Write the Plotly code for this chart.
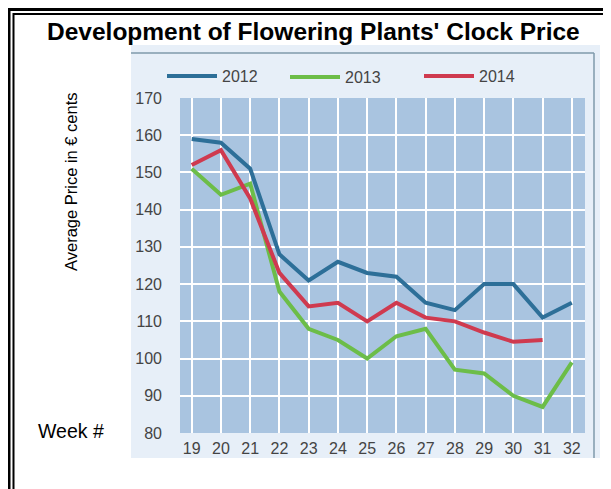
import plotly.graph_objects as go

weeks = [19, 20, 21, 22, 23, 24, 25, 26, 27, 28, 29, 30, 31, 32]
price_2012 = [159, 158, 151, 128, 121, 126, 123, 122, 115, 113, 120, 120, 111, 115]
price_2013 = [151, 144, 147, 118, 108, 105, 100, 106, 108, 97, 96, 90, 87, 99]
price_2014 = [152, 156, 143, 123, 114, 115, 110, 115, 111, 110, 107, 104.5, 105]
y_ticks = [80, 90, 100, 110, 120, 130, 140, 150, 160, 170]

# page body has an 8px margin: figure origin sits at screen (8, 8)
OFF = 8
SW, SH = 611, 489
W, H = SW - OFF, SH - OFF
# plot area in screen pixels
SL, SR, ST, SB = 180, 585, 98, 433
L, R, T, B = SL - OFF, SW - SR, ST - OFF, SH - SB
PW, PH = W - L - R, H - T - B

def px(sx):
    return (sx - OFF - L) / PW

def py(sy):
    return 1 - (sy - OFF - T) / PH

series = [
    ("2012", price_2012, "#2d6f98", "legend"),
    ("2013", price_2013, "#6cbd48", "legend2"),
    ("2014", price_2014, "#cf3a4f", "legend3"),
]

fig = go.Figure()
for name, vals, col, lg in series:
    fig.add_trace(go.Scatter(
        x=weeks[:len(vals)], y=vals, mode="lines", name=name,
        line=dict(color=col, width=4), legend=lg,
    ))

legend_font = dict(family="Liberation Sans, Arial, sans-serif", size=16, color="#444")
legend_common = dict(orientation="h", bgcolor="rgba(0,0,0,0)", font=legend_font,
                     xanchor="left", yanchor="middle", itemwidth=50,
                     tracegroupgap=0, borderwidth=0)

shapes = [
    # light panel of the embedded chart
    dict(type="rect", xref="paper", yref="paper", x0=px(131), x1=px(600), y0=py(458), y1=py(45),
         fillcolor="#e7eff8", line=dict(width=0), layer="below"),
    # plot area background
    dict(type="rect", xref="x domain", yref="y domain", x0=0, x1=1, y0=0, y1=1,
         fillcolor="#a9c4e0", line=dict(width=0), layer="below"),
    dict(type="line", xref="paper", yref="paper", x0=px(131), x1=px(594), y0=py(53), y1=py(53),
         line=dict(color="#7f9aab", width=1.5)),
    dict(type="line", xref="paper", yref="paper", x0=px(594), x1=px(594), y0=py(53), y1=py(458),
         line=dict(color="#7f9aab", width=1.5)),
    # double frame
    dict(type="line", xref="paper", yref="paper", x0=px(9), x1=px(9), y0=py(8), y1=py(489),
         line=dict(color="black", width=3)),
    dict(type="line", xref="paper", yref="paper", x0=px(8), x1=px(611), y0=py(9.5), y1=py(9.5),
         line=dict(color="black", width=3)),
    dict(type="line", xref="paper", yref="paper", x0=px(13.5), x1=px(13.5), y0=py(13), y1=py(489),
         line=dict(color="black", width=2)),
    dict(type="line", xref="paper", yref="paper", x0=px(13), x1=px(611), y0=py(14), y1=py(14),
         line=dict(color="black", width=2)),
]

annotations = [
    dict(text="<b>Development of Flowering Plants' Clock Price</b>", xref="paper", yref="paper",
         x=px(313.5), y=py(31), xanchor="center", yanchor="middle", showarrow=False,
         font=dict(family="Liberation Sans, Arial, sans-serif", size=24.5, color="black")),
    dict(text="Average Price in € cents", xref="paper", yref="paper",
         x=px(71), y=py(181), xanchor="center", yanchor="middle", showarrow=False, textangle=-90,
         font=dict(family="Liberation Sans, Arial, sans-serif", size=16.5, color="black")),
    dict(text="Week #", xref="paper", yref="paper",
         x=px(36), y=py(431), xanchor="left", yanchor="middle", showarrow=False,
         font=dict(family="Liberation Sans, Arial, sans-serif", size=19.5, color="black")),
]

fig.update_layout(
    width=W, height=H,
    margin=dict(l=L, r=R, t=T, b=B, pad=0, autoexpand=False),
    paper_bgcolor="white",
    plot_bgcolor="rgba(0,0,0,0)",
    showlegend=True,
    legend=dict(x=px(162), y=py(76), **legend_common),
    legend2=dict(x=px(285), y=py(77), **legend_common),
    legend3=dict(x=px(419), y=py(76), **legend_common),
    shapes=shapes,
    annotations=annotations,
    xaxis=dict(range=[18.6, 32.45], tickmode="array", tickvals=weeks,
               ticktext=[str(w) for w in weeks],
               showgrid=True, gridcolor="white", gridwidth=2, zeroline=False,
               showline=False, ticks="", ticklabelstandoff=4, automargin=False,
               tickfont=dict(family="Liberation Sans, Arial, sans-serif", size=16, color="#444")),
    yaxis=dict(range=[80, 170], tickmode="array", tickvals=y_ticks,
               ticktext=[str(v) for v in y_ticks],
               showgrid=True, gridcolor="white", gridwidth=2, zeroline=False,
               showline=False, ticks="", ticklabelstandoff=17, automargin=False,
               tickfont=dict(family="Liberation Sans, Arial, sans-serif", size=16, color="#444")),
)

fig.write_html("out.html")
